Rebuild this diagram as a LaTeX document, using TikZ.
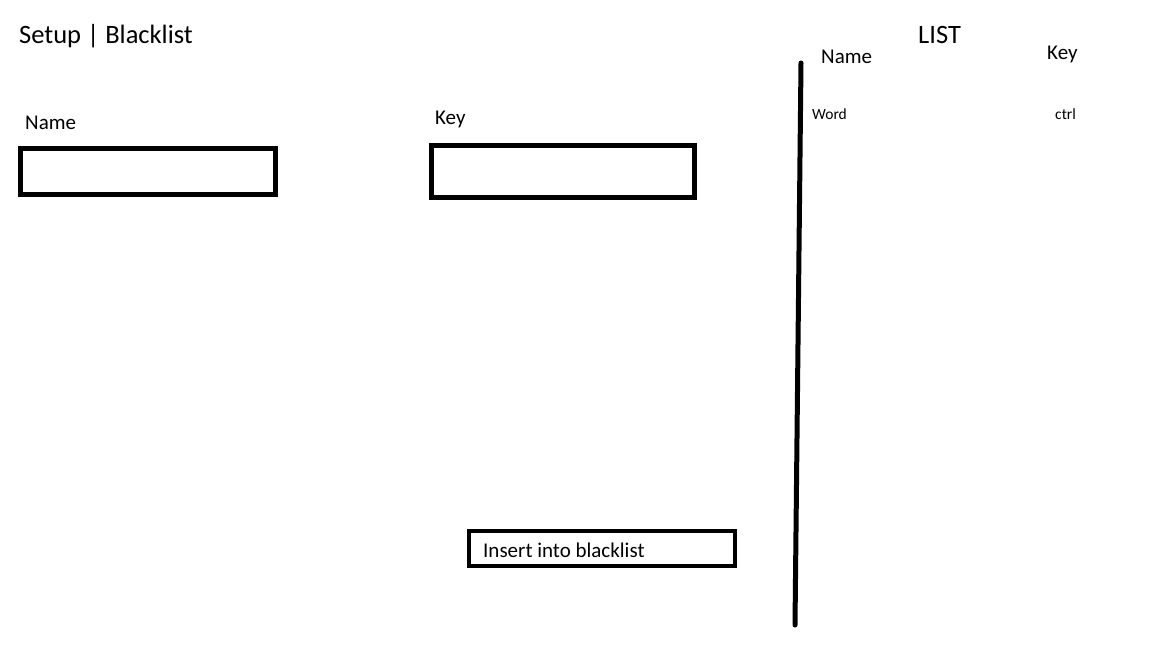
\documentclass[tikz,border=0pt]{standalone}
\usepackage{fontspec}
\setmainfont{Carlito}
\begin{document}
\begin{tikzpicture}[x=1pt,y=-1pt,
  lbl/.style={anchor=base west,inner sep=0pt,font=\fontsize{21}{25}\selectfont},
  big/.style={anchor=base west,inner sep=0pt,font=\fontsize{26.5}{31}\selectfont},
  small/.style={anchor=base west,inner sep=0pt,font=\fontsize{15.5}{18}\selectfont},
  field/.style={draw=black,line width=5pt,inner sep=0pt,anchor=north west}]
\useasboundingbox[fill=white] (0,0) rectangle (1152,648);
\node[big] (title) at (19,43) {Setup | Blacklist};
\node[lbl] (namelbl) at (25,129) {Name};
\node[field,minimum width=255pt,minimum height=46pt] (namebox) at (18,146) {};
\node[lbl] (keylbl) at (435,124) {Key};
\node[field,minimum width=263pt,minimum height=52pt] (keybox) at (429,143) {};
\node[field,line width=4pt,minimum width=266pt,minimum height=35pt] (insertbox) at (467,529) {};
\node[lbl] (insert) at (483,557) {Insert into blacklist};
\coordinate (ltop) at (801,63);
\coordinate (lbot) at (795,625);
\draw[line width=5pt,line cap=round] (ltop) -- (lbot);
\node[big] (list) at (918,43) {LIST};
\node[lbl] (name2) at (821,63) {Name};
\node[lbl] (key2) at (1047,59) {Key};
\node[small] (word) at (812,119) {Word};
\node[small] (ctrl) at (1055,119) {ctrl};
\end{tikzpicture}
\end{document}
